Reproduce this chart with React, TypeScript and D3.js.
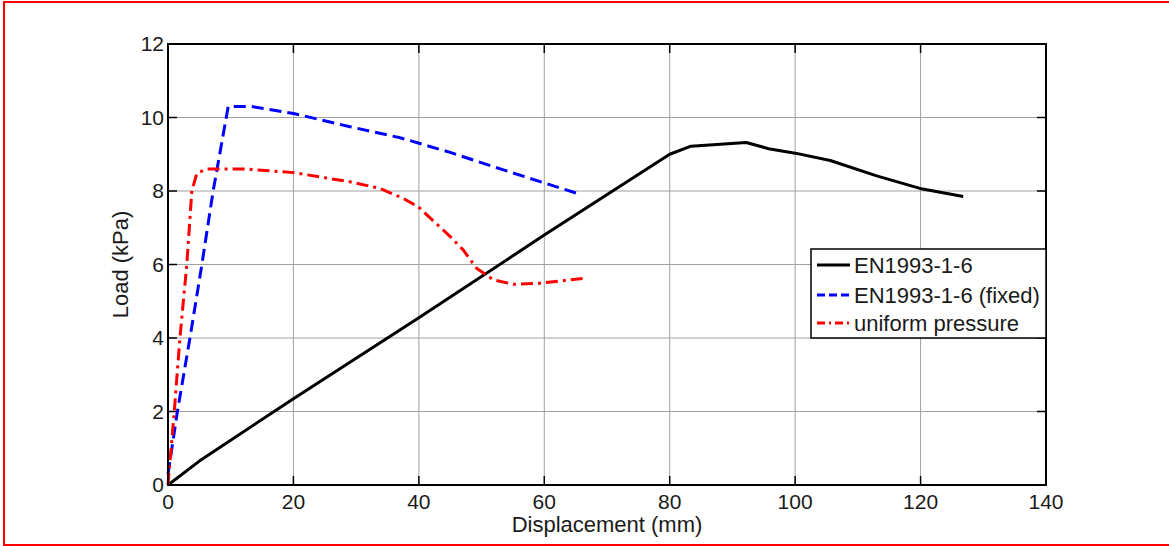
import React from 'react';
import { scaleLinear, line, range } from 'd3';

// EN1993-1-6 (solid black)
const enX = [0, 5, 20, 40, 60, 80, 83.4, 92.2, 96, 100, 105.6, 113, 119.9, 126.8];
const enY = [0, 0.65, 2.35, 4.55, 6.8, 9.0, 9.22, 9.32, 9.14, 9.03, 8.83, 8.41, 8.07, 7.85];

// EN1993-1-6 (fixed) (blue dashed)
const fixedX = [0, 1.5, 3.5, 5.4, 7.2, 9.6, 13.3, 20, 29, 37, 45, 53, 60, 65.5];
const fixedY = [0.3, 2.0, 4.0, 6.0, 8.0, 10.3, 10.3, 10.11, 9.75, 9.45, 9.05, 8.6, 8.22, 7.92];

// uniform pressure (red dash-dot)
const unifX = [0, 0.5, 1, 1.9, 3, 3.8, 4.6, 6.2, 12.3, 20, 29, 33.8, 37.5, 39.9, 45, 47.1, 49.2, 51.9, 55.1, 59.3, 66.1];
const unifY = [0, 1, 2, 4, 6, 8, 8.48, 8.6, 8.6, 8.5, 8.25, 8.07, 7.8, 7.57, 6.76, 6.39, 5.9, 5.58, 5.46, 5.49, 5.62];

const xTicks = [0, 20, 40, 60, 80, 100, 120, 140];
const yTicks = [0, 2, 4, 6, 8, 10, 12];
const legendLabels = ['EN1993-1-6', 'EN1993-1-6 (fixed)', 'uniform pressure'];

const W = 1169;
const H = 546;
const left = 168, right = 1046, top = 44, bottom = 485;

export default function App() {
  const x = scaleLinear().domain([0, 140]).range([left, right]);
  const y = scaleLinear().domain([0, 12]).range([bottom, top]);

  const path = line<number>()
    .x(d => x(d[0]))
    .y(d => y(d[1]));

  const series = [
    { xs: enX, ys: enY, color: '#000000', dash: 'none' },
    { xs: fixedX, ys: fixedY, color: '#0000ff', dash: '12,6' },
    { xs: unifX, ys: unifY, color: '#ff0000', dash: '12,5,3,5' },
  ];

  const font = 'Liberation Sans, Arial, sans-serif';
  const lgX = 811, lgY = 249, lgW = 235, lgH = 89;
  const lgRows = [265, 295, 323];

  return (
    <svg width={W} height={H} style={{ position: 'absolute', left: 0, top: 0, background: '#fff' }}
      fontFamily={font}>
      <rect x={4} y={2} width={1180} height={543} fill="none" stroke="#ff0000" strokeWidth={2} />

      {/* grid */}
      {xTicks.slice(1, -1).map(t => (
        <line key={'gx' + t} x1={x(t)} x2={x(t)} y1={top} y2={bottom} stroke="#a0a0a0" strokeWidth={1} />
      ))}
      {yTicks.slice(1, -1).map(t => (
        <line key={'gy' + t} x1={left} x2={right} y1={y(t)} y2={y(t)} stroke="#a0a0a0" strokeWidth={1} />
      ))}

      {/* ticks */}
      {xTicks.map(t => (
        <g key={'tx' + t}>
          <line x1={x(t)} x2={x(t)} y1={bottom} y2={bottom - 9} stroke="#000" strokeWidth={1.5} />
          <line x1={x(t)} x2={x(t)} y1={top} y2={top + 9} stroke="#000" strokeWidth={1.5} />
          <text x={x(t)} y={509} fontSize={21} textAnchor="middle" fill="#1a1a1a">{t}</text>
        </g>
      ))}
      {yTicks.map(t => (
        <g key={'ty' + t}>
          <line x1={left} x2={left + 9} y1={y(t)} y2={y(t)} stroke="#000" strokeWidth={1.5} />
          <line x1={right} x2={right - 9} y1={y(t)} y2={y(t)} stroke="#000" strokeWidth={1.5} />
          <text x={left - 4} y={y(t) + 7} fontSize={21} textAnchor="end" fill="#1a1a1a">{t}</text>
        </g>
      ))}

      {/* series */}
      {series.map((s, i) => (
        <path key={i} d={path(range(s.xs.length).map(j => [s.xs[j], s.ys[j]])) || ''}
          fill="none" stroke={s.color} strokeWidth={3} strokeDasharray={s.dash} strokeLinejoin="round" />
      ))}

      {/* axes box */}
      <rect x={left} y={top} width={right - left} height={bottom - top} fill="none" stroke="#000" strokeWidth={2} />

      {/* axis labels */}
      <text x={(left + right) / 2} y={532} fontSize={22} textAnchor="middle" fill="#1a1a1a">Displacement (mm)</text>
      <text transform={`translate(128,${(top + bottom) / 2}) rotate(-90)`} fontSize={22} textAnchor="middle" fill="#1a1a1a">Load (kPa)</text>

      {/* legend */}
      <rect x={lgX} y={lgY} width={lgW} height={lgH} fill="#fff" stroke="#000" strokeWidth={1.5} />
      {series.map((s, i) => (
        <g key={'lg' + i}>
          <line x1={817} x2={850} y1={lgRows[i]} y2={lgRows[i]} stroke={s.color} strokeWidth={3} strokeDasharray={s.dash === 'none' ? 'none' : i === 1 ? '8,4' : '8,4,2,4'} />
          <text x={854} y={lgRows[i] + 8} fontSize={22} fill="#1a1a1a">{legendLabels[i]}</text>
        </g>
      ))}
    </svg>
  );
}
